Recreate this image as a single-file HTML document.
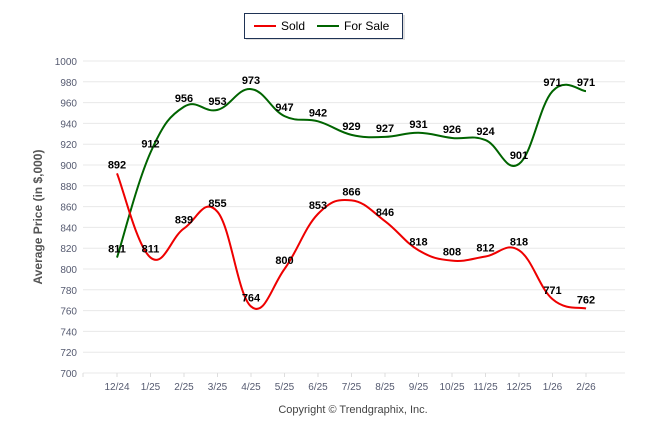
<!DOCTYPE html>
<html><head><meta charset="utf-8"><style>
body{margin:0;background:#fff;font-family:"Liberation Sans",sans-serif}
</style></head><body>
<svg id="c" width="646" height="434" xmlns="http://www.w3.org/2000/svg"></svg>
<script>
const categories=["12/24","1/25","2/25","3/25","4/25","5/25","6/25","7/25","8/25","9/25","10/25","11/25","12/25","1/26","2/26"];
const sold=[892,811,839,855,764,800,853,866,846,818,808,812,818,771,762];
const forSale=[811,912,956,953,973,947,942,929,927,931,926,924,901,971,971];
const yTicks=[700,720,740,760,780,800,820,840,860,880,900,920,940,960,980,1000];
const svg=document.getElementById('c');
const NS='http://www.w3.org/2000/svg';
function el(t,a,p){const e=document.createElementNS(NS,t);for(const k in a)e.setAttribute(k,a[k]);(p||svg).appendChild(e);return e;}
const x=i=>117+33.5*i;
const y=v=>373-(v-700)*(312/300);
// grid
yTicks.forEach(v=>{
 const g=el('line',{x1:83,x2:625,y1:y(v),y2:y(v),stroke:'#e8e8e8','stroke-width':1});
 
 
 const t=el('text',{x:77,y:y(v)+4,'text-anchor':'end','font-size':10,fill:'#555a70'});
 t.textContent=v;
 
 
});
el('line',{x1:83,x2:83,y1:373,y2:377,stroke:'#ddd'});
categories.forEach((c,i)=>{
 el('line',{x1:x(i),x2:x(i),y1:373,y2:377,stroke:'#ddd'});
 const t=el('text',{x:x(i),y:390,'text-anchor':'middle','font-size':10,fill:'#555a70'});
 t.textContent=c;
 
 
});
const yt=el('text',{x:42,y:217,'text-anchor':'middle','font-size':12,'font-weight':'bold',fill:'#555',transform:'rotate(-90 42 217)'});
yt.textContent='Average Price (in $,000)';


const cp=el('text',{x:353,y:413,'text-anchor':'middle','font-size':11,fill:'#444'});
cp.textContent='Copyright © Trendgraphix, Inc.';


function path(vals){
 const p=vals.map((v,i)=>[x(i),y(v)]);
 let d='M'+p[0][0]+','+p[0][1];
 for(let i=0;i<p.length-1;i++){
  const p0=p[i-1]||p[i],p1=p[i],p2=p[i+1],p3=p[i+2]||p[i+1];
  const t=0.2;
  d+=' C'+(p1[0]+(p2[0]-p0[0])*t)+','+(p1[1]+(p2[1]-p0[1])*t)+' '+(p2[0]-(p3[0]-p1[0])*t)+','+(p2[1]-(p3[1]-p1[1])*t)+' '+p2[0]+','+p2[1];
 }
 return d;
}
function series(vals,color,name){
 const l=el('path',{d:path(vals),fill:'none',stroke:color,'stroke-width':2});
 
 
 vals.forEach((v,i)=>{
  const t=el('text',{x:x(i),y:y(v)-5,'text-anchor':'middle','font-size':11,'font-weight':'bold',fill:'#000'});
  t.textContent=v;
  
  
 });
}
series(forSale,'#006400','for-sale');
series(sold,'#ee0000','sold');
// legend
const lg=el('g',{});


el('rect',{x:246,y:15,width:159,height:25,fill:'#e0e0e0'},lg);
el('rect',{x:244.5,y:13.5,width:158,height:25,fill:'#fff',stroke:'#1f3355'},lg);
el('line',{x1:254,x2:276,y1:26,y2:26,stroke:'#ee0000','stroke-width':2},lg);
const s=el('text',{x:281,y:30,'font-size':12,fill:'#000'},lg);s.textContent='Sold';


el('line',{x1:317,x2:339,y1:26,y2:26,stroke:'#006400','stroke-width':2},lg);
const f=el('text',{x:344,y:30,'font-size':12,fill:'#000'},lg);f.textContent='For Sale';


</script>
</body></html>
